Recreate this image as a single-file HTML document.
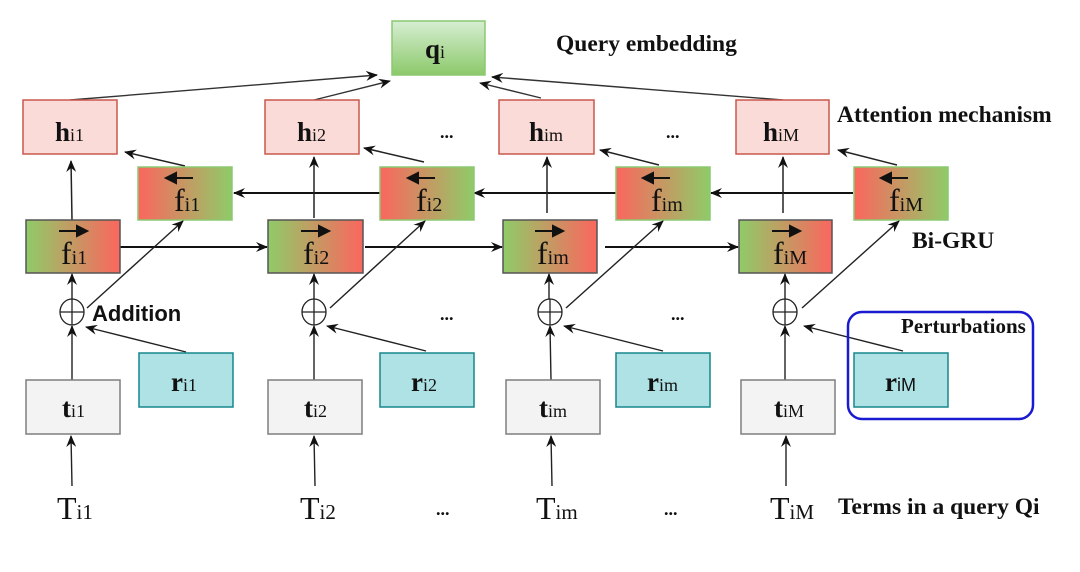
<!DOCTYPE html>
<html><head><meta charset="utf-8"><style>
html,body{margin:0;padding:0;background:#fff;}
svg{display:block;}
.b{font-family:"Liberation Serif",serif;font-weight:bold;font-size:27px;fill:#111;}
.s{font-family:"Liberation Serif",serif;font-weight:normal;font-size:18px;fill:#111;}
.f{font-family:"Liberation Serif",serif;font-size:32px;fill:#111;}
.lab{font-family:"Liberation Serif",serif;font-weight:bold;font-size:23.5px;fill:#111;}
.T{font-family:"Liberation Serif",serif;font-size:32px;fill:#111;}
.dots{font-family:"Liberation Serif",serif;font-weight:bold;font-size:18px;fill:#111;}
</style></head><body>
<svg width="1080" height="572" viewBox="0 0 1080 572" xmlns="http://www.w3.org/2000/svg">
<defs>
<linearGradient id="gf" x1="0" x2="1" y1="0" y2="0"><stop offset="0" stop-color="#8fcb68"/><stop offset="1" stop-color="#fb665e"/></linearGradient>
<linearGradient id="gb" x1="0" x2="1" y1="0" y2="0"><stop offset="0" stop-color="#fb665e"/><stop offset="1" stop-color="#8fcb68"/></linearGradient>
<linearGradient id="gq" x1="0" x2="0" y1="0" y2="1"><stop offset="0" stop-color="#d6eed2"/><stop offset="1" stop-color="#8cc96a"/></linearGradient>
<marker id="a" markerWidth="12" markerHeight="10" refX="11" refY="5" orient="auto" markerUnits="userSpaceOnUse"><path d="M0,0 L12,5 L0,10 L4,5 Z" fill="#111"/></marker>
</defs>

<rect x="392" y="21" width="93" height="54" fill="url(#gq)" stroke="#8cc870" stroke-width="1.5"/>
<text x="425" y="58" class="b">q<tspan class="s">i</tspan></text>

<g stroke="#333" stroke-width="1.4" fill="none" marker-end="url(#a)">
<line x1="70" y1="100" x2="377" y2="75"/>
<line x1="314" y1="100" x2="390" y2="81"/>
<line x1="541" y1="98" x2="480" y2="83"/>
<line x1="783" y1="100" x2="492" y2="77"/>
</g>

<g fill="#fadbd8" stroke="#c9584d" stroke-width="1.5">
<rect x="23" y="100" width="94" height="54"/>
<rect x="265" y="100" width="94" height="54"/>
<rect x="499" y="100" width="95" height="54"/>
<rect x="736" y="100" width="93" height="54"/>
</g>
<text x="55" y="141" class="b">h<tspan class="s">i1</tspan></text>
<text x="297" y="141" class="b">h<tspan class="s">i2</tspan></text>
<text x="529" y="141" class="b">h<tspan class="s">im</tspan></text>
<text x="763" y="141" class="b">h<tspan class="s">iM</tspan></text>

<g stroke="#111" stroke-width="2" fill="none" marker-end="url(#a)">
<line x1="380" y1="193" x2="234" y2="193"/>
<line x1="616" y1="193" x2="474" y2="193"/>
<line x1="853" y1="193" x2="711" y2="193"/>
<line x1="120" y1="247" x2="267" y2="247"/>
<line x1="365" y1="247" x2="502" y2="247"/>
<line x1="605" y1="247" x2="738" y2="247"/>
</g>

<g stroke="#222" stroke-width="1.5" fill="none" marker-end="url(#a)">
<line x1="72" y1="220" x2="71" y2="161"/>
<line x1="314" y1="218" x2="314" y2="157"/>
<line x1="547" y1="213" x2="547" y2="157"/>
<line x1="783" y1="213" x2="783" y2="157"/>
<line x1="185" y1="166" x2="125" y2="152"/>
<line x1="424" y1="162" x2="364" y2="148"/>
<line x1="659" y1="165" x2="600" y2="150"/>
<line x1="897" y1="165" x2="838" y2="150"/>
</g>

<g fill="url(#gb)" stroke="#8cc870" stroke-width="1.5">
<rect x="138" y="167" width="94" height="53"/>
<rect x="380" y="167" width="94" height="53"/>
<rect x="616" y="167" width="94" height="53"/>
<rect x="854" y="167" width="94" height="53"/>
</g>
<g fill="url(#gf)" stroke="#555" stroke-width="1.5">
<rect x="26" y="220" width="94" height="53"/>
<rect x="268" y="220" width="95" height="53"/>
<rect x="503" y="220" width="94" height="53"/>
<rect x="739" y="220" width="93" height="53"/>
</g>

<g>
<text x="174" y="211" class="f">f<tspan class="s" style="font-size:20px">i1</tspan></text>
<text x="416" y="211" class="f">f<tspan class="s" style="font-size:20px">i2</tspan></text>
<text x="651" y="211" class="f">f<tspan class="s" style="font-size:20px">im</tspan></text>
<text x="889" y="211" class="f">f<tspan class="s" style="font-size:20px">iM</tspan></text>
<text x="61" y="264" class="f">f<tspan class="s" style="font-size:20px">i1</tspan></text>
<text x="303" y="264" class="f">f<tspan class="s" style="font-size:20px">i2</tspan></text>
<text x="537" y="264" class="f">f<tspan class="s" style="font-size:20px">im</tspan></text>
<text x="773" y="264" class="f">f<tspan class="s" style="font-size:20px">iM</tspan></text>
</g>
<g stroke="#111" stroke-width="2" fill="#111">
<line x1="170" y1="178" x2="193" y2="178"/><path d="M166,178 L176,173 L176,183 Z"/>
<line x1="412" y1="178" x2="435" y2="178"/><path d="M408,178 L418,173 L418,183 Z"/>
<line x1="647" y1="178" x2="670" y2="178"/><path d="M643,178 L653,173 L653,183 Z"/>
<line x1="885" y1="178" x2="908" y2="178"/><path d="M881,178 L891,173 L891,183 Z"/>
<line x1="59" y1="231" x2="82" y2="231"/><path d="M87,231 L77,226 L77,236 Z"/>
<line x1="301" y1="231" x2="324" y2="231"/><path d="M329,231 L319,226 L319,236 Z"/>
<line x1="535" y1="231" x2="558" y2="231"/><path d="M563,231 L553,226 L553,236 Z"/>
<line x1="772" y1="231" x2="795" y2="231"/><path d="M800,231 L790,226 L790,236 Z"/>
</g>

<g stroke="#222" stroke-width="1.4" fill="none" marker-end="url(#a)">
<line x1="87" y1="308" x2="183" y2="221"/>
<line x1="330" y1="308" x2="425" y2="221"/>
<line x1="566" y1="308" x2="663" y2="221"/>
<line x1="802" y1="308" x2="899" y2="221"/>
<line x1="72" y1="300" x2="72" y2="274"/>
<line x1="314" y1="300" x2="314" y2="274"/>
<line x1="549" y1="300" x2="549" y2="274"/>
<line x1="785" y1="300" x2="785" y2="274"/>
<line x1="72" y1="380" x2="72" y2="326"/>
<line x1="314" y1="380" x2="314" y2="326"/>
<line x1="551" y1="380" x2="550" y2="326"/>
<line x1="785" y1="380" x2="785" y2="326"/>
<line x1="186" y1="352" x2="86" y2="327"/>
<line x1="426" y1="351" x2="327" y2="326"/>
<line x1="663" y1="351" x2="564" y2="326"/>
<line x1="903" y1="351" x2="804" y2="326"/>
<line x1="72" y1="486" x2="71" y2="436"/>
<line x1="315" y1="486" x2="314" y2="436"/>
<line x1="552" y1="486" x2="551" y2="436"/>
<line x1="786" y1="486" x2="786" y2="436"/>
</g>

<g stroke="#222" stroke-width="1.3" fill="#fff">
<ellipse cx="72" cy="312" rx="12" ry="13"/>
<ellipse cx="314" cy="312" rx="12" ry="13"/>
<ellipse cx="550" cy="312" rx="12" ry="13"/>
<ellipse cx="785" cy="312" rx="12" ry="13"/>
</g>
<g stroke="#222" stroke-width="1.3">
<line x1="60" y1="312" x2="84" y2="312"/><line x1="72" y1="299" x2="72" y2="325"/>
<line x1="302" y1="312" x2="326" y2="312"/><line x1="314" y1="299" x2="314" y2="325"/>
<line x1="538" y1="312" x2="562" y2="312"/><line x1="550" y1="299" x2="550" y2="325"/>
<line x1="773" y1="312" x2="797" y2="312"/><line x1="785" y1="299" x2="785" y2="325"/>
</g>

<g fill="#f3f3f3" stroke="#7f7f7f" stroke-width="1.5">
<rect x="26" y="380" width="94" height="54"/>
<rect x="268" y="380" width="94" height="54"/>
<rect x="506" y="380" width="94" height="54"/>
<rect x="741" y="380" width="94" height="54"/>
</g>
<text x="62" y="417" class="b">t<tspan class="s">i1</tspan></text>
<text x="304" y="417" class="b">t<tspan class="s">i2</tspan></text>
<text x="539" y="417" class="b">t<tspan class="s">im</tspan></text>
<text x="774" y="417" class="b">t<tspan class="s">iM</tspan></text>

<g fill="#aee2e5" stroke="#17878c" stroke-width="1.5">
<rect x="139" y="353" width="94" height="54"/>
<rect x="380" y="353" width="94" height="54"/>
<rect x="616" y="353" width="94" height="54"/>
<rect x="854" y="353" width="94" height="54"/>
</g>
<text x="171" y="391" class="b">r<tspan class="s">i1</tspan></text>
<text x="411" y="391" class="b">r<tspan class="s">i2</tspan></text>
<text x="647" y="391" class="b">r<tspan class="s">im</tspan></text>
<text x="885" y="391" class="b">r<tspan class="s" style="font-family:'Liberation Sans',sans-serif">iM</tspan></text>

<rect x="848" y="312" width="185" height="107" rx="14" ry="14" fill="none" stroke="#1a1ad0" stroke-width="2.5"/>

<text x="57" y="519" class="T">T<tspan class="s" style="font-size:21px">i1</tspan></text>
<text x="300" y="519" class="T">T<tspan class="s" style="font-size:21px">i2</tspan></text>
<text x="536" y="519" class="T">T<tspan class="s" style="font-size:21px">im</tspan></text>
<text x="770" y="519" class="T">T<tspan class="s" style="font-size:21px">iM</tspan></text>

<text x="440" y="138" class="dots">...</text>
<text x="666" y="138" class="dots">...</text>
<text x="440" y="320" class="dots">...</text>
<text x="671" y="320" class="dots">...</text>
<text x="436" y="515" class="dots">...</text>
<text x="664" y="515" class="dots">...</text>

<text x="556" y="51" class="lab">Query embedding</text>
<text x="837" y="122" class="lab">Attention mechanism</text>
<text x="912" y="248" class="lab">Bi-GRU</text>
<text x="901" y="333" class="lab" style="font-size:21px">Perturbations</text>
<text x="838" y="514" class="lab">Terms in a query Qi</text>
<text x="92" y="321" style="font-family:'Liberation Sans',sans-serif;font-weight:bold;font-size:22px" fill="#111">Addition</text>
</svg>
</body></html>
